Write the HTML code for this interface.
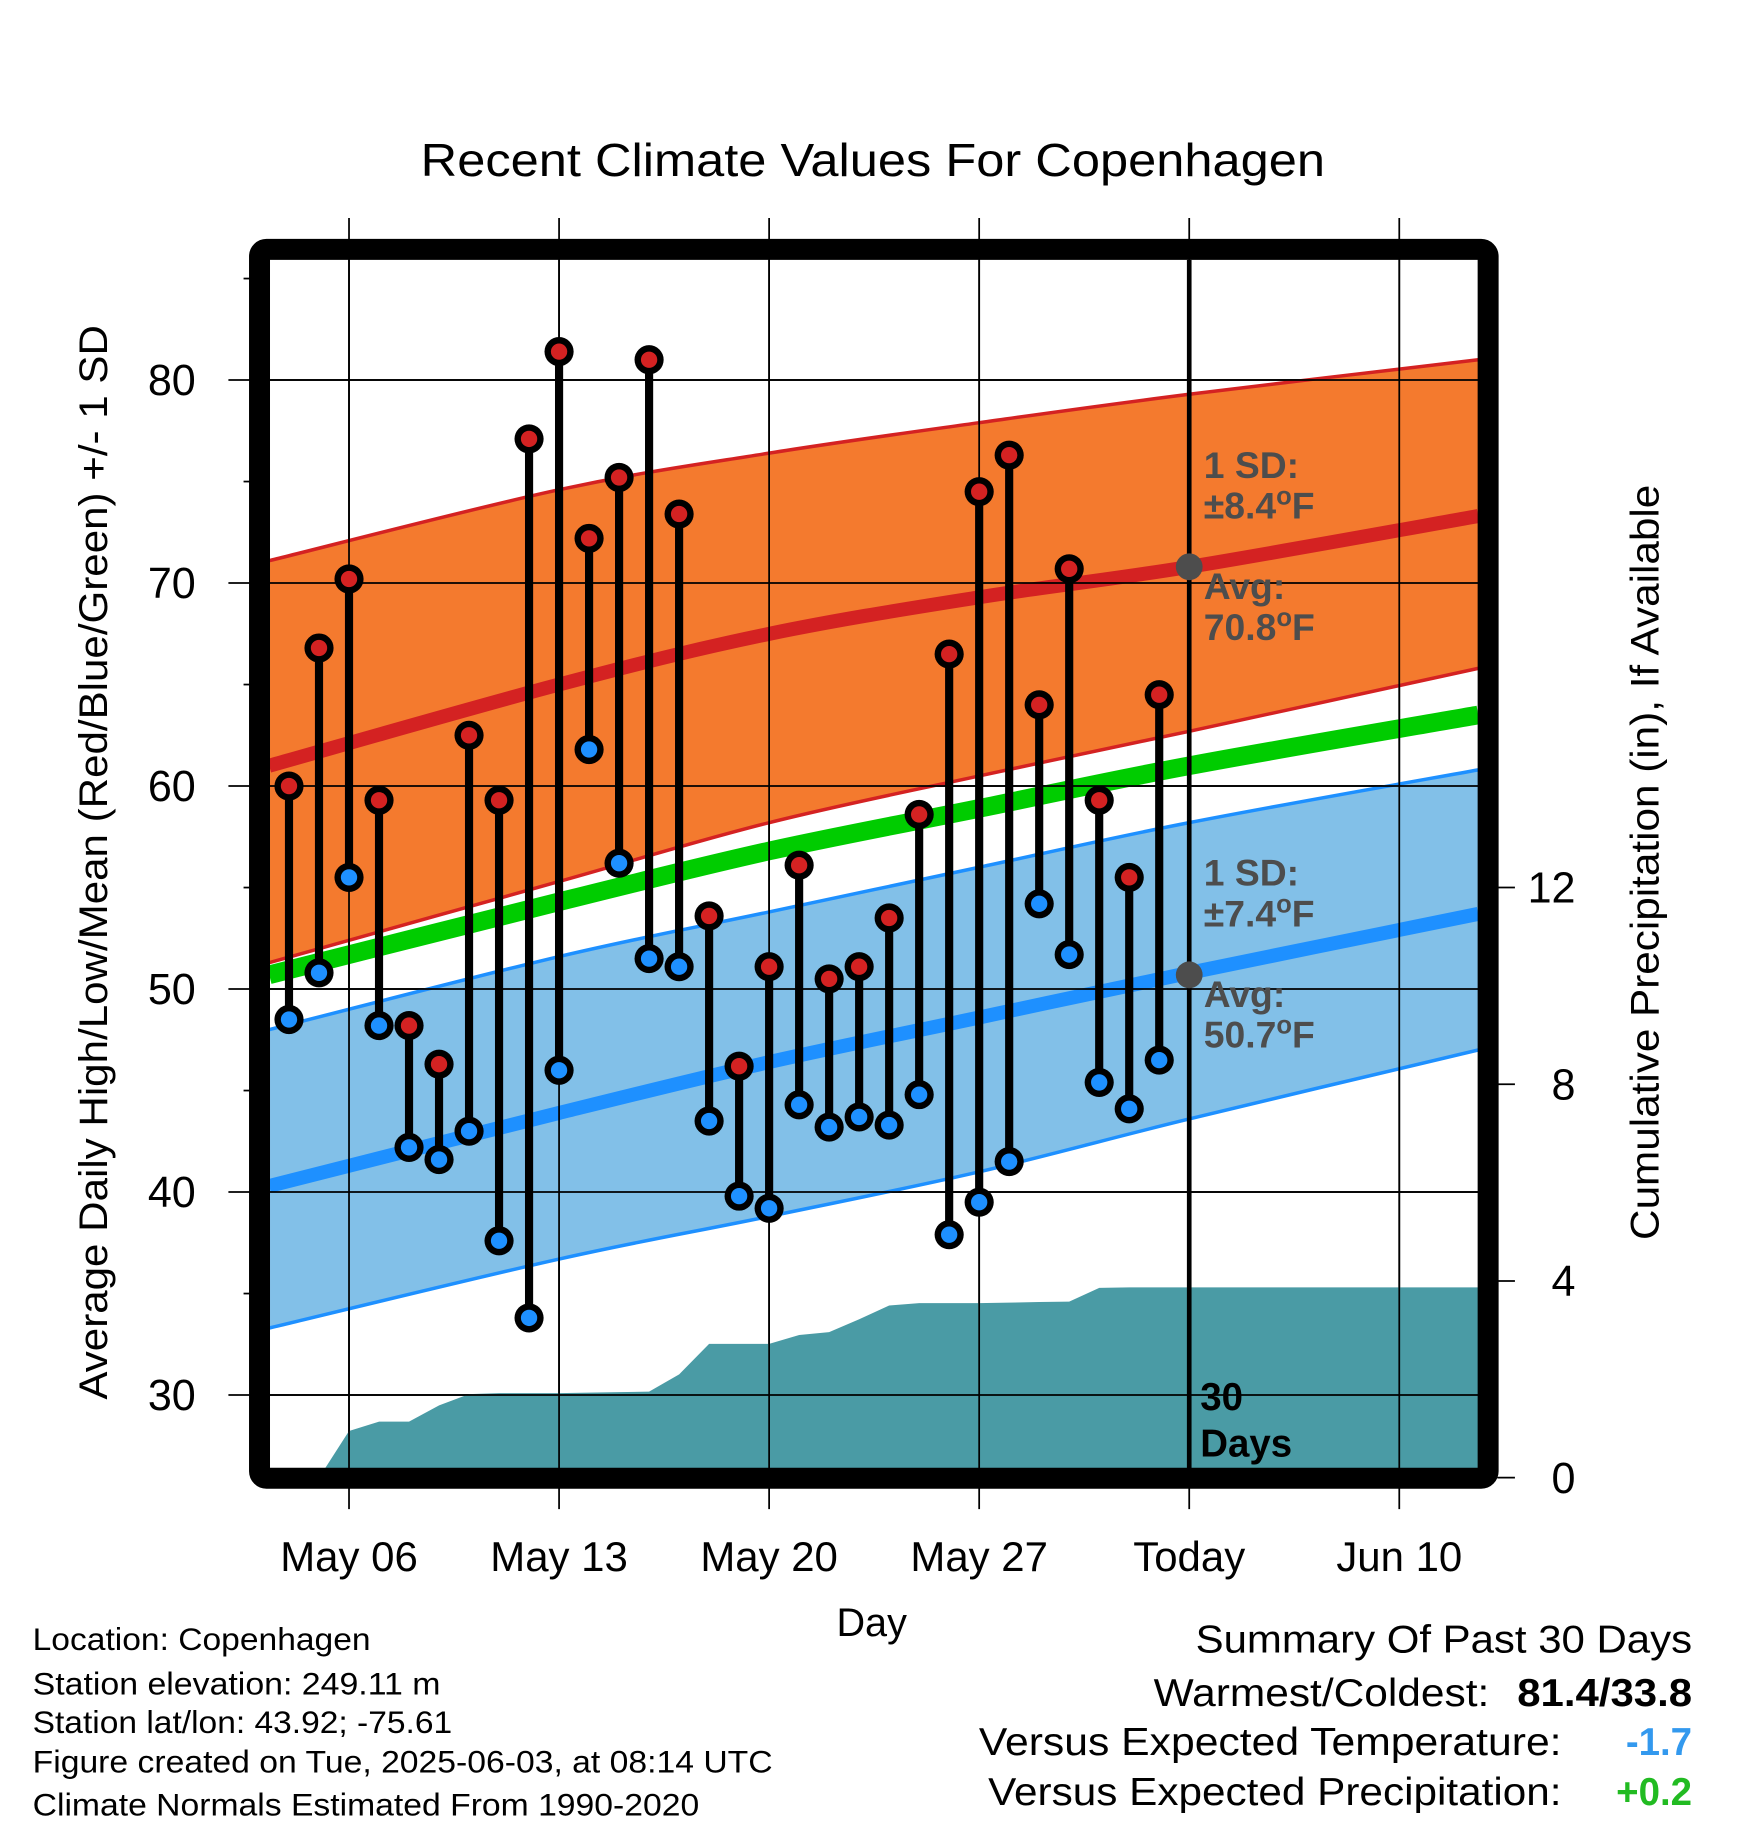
<!DOCTYPE html>
<html><head><meta charset="utf-8"><style>
html,body{margin:0;padding:0;background:#fff;}
svg{display:block;font-family:"Liberation Sans",sans-serif;}
</style></head><body>
<svg id="chart" width="1748" height="1828" viewBox="0 0 1500 1568.6" xmlns="http://www.w3.org/2000/svg">
<defs><clipPath id="plotclip"><rect x="231.7" y="223" width="1036.7" height="1037"/></clipPath></defs>
<rect x="0" y="0" width="1500" height="1568.6" fill="#fff"/>
<text x="749" y="151" font-size="40" text-anchor="middle" textLength="776" lengthAdjust="spacingAndGlyphs">Recent Climate Values For Copenhagen</text>
<g id="grid"></g>
<g id="plot" clip-path="url(#plotclip)"></g>
<g id="marks"></g>
<rect x="222.7" y="214" width="1054.3" height="1054.5" fill="none" stroke="#000" stroke-width="18" rx="6"/>
<g id="axes"></g>
<text transform="translate(92,740) rotate(-90)" font-size="34" text-anchor="middle" textLength="922" lengthAdjust="spacingAndGlyphs">Average Daily High/Low/Mean (Red/Blue/Green) +/- 1 SD</text>
<text transform="translate(1423,740) rotate(-90)" font-size="34" text-anchor="middle" textLength="648" lengthAdjust="spacingAndGlyphs">Cumulative Precipitation (in), If Available</text>
<text x="748" y="1404" font-size="34" text-anchor="middle">Day</text>
<g font-size="27">
<text x="28" y="1416" textLength="290" lengthAdjust="spacingAndGlyphs">Location: Copenhagen</text>
<text x="28" y="1454" textLength="350" lengthAdjust="spacingAndGlyphs">Station elevation: 249.11 m</text>
<text x="28" y="1487" textLength="360" lengthAdjust="spacingAndGlyphs">Station lat/lon: 43.92; -75.61</text>
<text x="28" y="1521" textLength="635" lengthAdjust="spacingAndGlyphs">Figure created on Tue, 2025-06-03, at 08:14 UTC</text>
<text x="28" y="1558" textLength="572" lengthAdjust="spacingAndGlyphs">Climate Normals Estimated From 1990-2020</text>
</g>
<g font-size="33">
<text x="1452" y="1418" text-anchor="end" textLength="426" lengthAdjust="spacingAndGlyphs">Summary Of Past 30 Days</text>
<text x="1278" y="1464" text-anchor="end" textLength="288" lengthAdjust="spacingAndGlyphs">Warmest/Coldest:</text>
<text x="1452" y="1464" text-anchor="end" font-weight="bold" textLength="150" lengthAdjust="spacingAndGlyphs">81.4/33.8</text>
<text x="1340" y="1506" text-anchor="end" textLength="500" lengthAdjust="spacingAndGlyphs">Versus Expected Temperature:</text>
<text x="1452" y="1506" text-anchor="end" font-weight="bold" fill="#3399ee">-1.7</text>
<text x="1340" y="1549" text-anchor="end" textLength="492" lengthAdjust="spacingAndGlyphs">Versus Expected Precipitation:</text>
<text x="1452" y="1549" text-anchor="end" font-weight="bold" fill="#22bb22">+0.2</text>
</g>
</svg>
<script>
// Observed data May 4 .. Jun 2
const dayOffsets = [-2,-1,0,1,2,3,4,5,6,7,8,9,10,11,12,13,14,15,16,17,18,19,20,21,22,23,24,25,26,27];
const highs = [60.0,66.8,70.2,59.3,48.2,46.3,62.5,59.3,77.1,81.4,72.2,75.2,81.0,73.4,53.6,46.2,51.1,56.1,50.5,51.1,53.5,58.6,66.5,74.5,76.3,64.0,70.7,59.3,55.5,64.5];
const lows = [48.5,50.8,55.5,48.2,42.2,41.6,43.0,37.6,33.8,46.0,61.8,56.2,51.5,51.1,43.5,39.8,39.2,44.3,43.2,43.7,43.3,44.8,37.9,39.5,41.5,54.2,51.7,45.4,44.1,46.5];
const precipCum = [0,0,0.95,1.14,1.14,1.47,1.70,1.72,1.72,1.72,1.73,1.74,1.75,2.10,2.72,2.72,2.72,2.90,2.96,3.22,3.50,3.55,3.55,3.55,3.56,3.57,3.58,3.86,3.87,3.87];
// Normals at knots (day offsets from May 06)
const normDays = [-2.66,7,14,21,28,37.63];
const redUpper = [71.1,74.6,76.4,77.9,79.3,81.0];
const redAvg = [61.0,65.0,67.5,69.3,70.8,73.3];
const redLower = [51.3,55.3,58.2,60.5,62.7,65.8];
const greenMean = [50.7,54.3,56.8,58.9,61.0,63.5];
const blueUpper = [48.0,51.6,53.8,56.0,58.2,60.8];
const blueAvg = [40.3,43.9,46.4,48.6,50.8,53.7];
const blueLower = [33.3,36.7,38.8,41.0,43.6,47.0];
const yTicks = [30,40,50,60,70,80];
const yMinor = [35,45,55,65,75,85];
const precipTicks = [0,4,8,12];
const xTickDays = [0,7,14,21,28,35];
const xTickLabels = ["May 06","May 13","May 20","May 27","Today","Jun 10"];

const X = d => 299.5 + d*25.75;
const Y = t => 326.1 + (80 - t)*17.42;
const P = p => 1268 - p*42.2;
const NS = "http://www.w3.org/2000/svg";
function mk(tag, parent, attrs){const e=document.createElementNS(NS,tag);for(const k in attrs)e.setAttribute(k,attrs[k]);parent.appendChild(e);return e;}
const grid=document.getElementById('grid'), plot=document.getElementById('plot'), marks=document.getElementById('marks'), axes=document.getElementById('axes');

function ptsOf(arr){return normDays.map((d,i)=>[X(d),Y(arr[i])]);}
function spline(p,move){
  let s=(move?'M':'L')+p[0][0].toFixed(1)+','+p[0][1].toFixed(1);
  for(let i=0;i<p.length-1;i++){
    const p0=p[Math.max(0,i-1)],p1=p[i],p2=p[i+1],p3=p[Math.min(p.length-1,i+2)];
    const c1=[p1[0]+(p2[0]-p0[0])/6,p1[1]+(p2[1]-p0[1])/6];
    const c2=[p2[0]-(p3[0]-p1[0])/6,p2[1]-(p3[1]-p1[1])/6];
    s+=' C'+c1.map(v=>v.toFixed(1)).join(',')+' '+c2.map(v=>v.toFixed(1)).join(',')+' '+p2[0].toFixed(1)+','+p2[1].toFixed(1);
  }
  return s;
}
function line(arr){return spline(ptsOf(arr),true);}
function band(up,lo){return spline(ptsOf(up),true)+' '+spline(ptsOf(lo).reverse(),false)+' Z';}

let e;
e=mk('path',plot,{d:band(redUpper,redLower),fill:'#f47a2e'});

e=mk('path',plot,{d:line(redUpper),fill:'none',stroke:'#d42222','stroke-width':3});

e=mk('path',plot,{d:line(redLower),fill:'none',stroke:'#d42222','stroke-width':3});

e=mk('path',plot,{d:band(blueUpper,blueLower),fill:'#82c0e8'});

e=mk('path',plot,{d:line(blueUpper),fill:'none',stroke:'#1e90ff','stroke-width':3});

e=mk('path',plot,{d:line(blueLower),fill:'none',stroke:'#1e90ff','stroke-width':3});

e=mk('path',plot,{d:line(redAvg),fill:'none',stroke:'#d42222','stroke-width':12});

e=mk('path',plot,{d:line(blueAvg),fill:'none',stroke:'#1e90ff','stroke-width':12});

e=mk('path',plot,{d:line(greenMean),fill:'none',stroke:'#00cc00','stroke-width':16});


// precip area
let pp=[X(dayOffsets[0]-1)+','+P(0)];
dayOffsets.forEach((d,i)=>pp.push(X(d).toFixed(1)+','+P(precipCum[i]).toFixed(1)));
pp.push('1280,'+P(precipCum[precipCum.length-1]).toFixed(1));
pp.push('1280,1270');pp.push(X(dayOffsets[0]-1)+',1270');
e=mk('polygon',plot,{points:pp.join(' '),fill:'#4a9ba5'});


yTicks.forEach(t=>{e=mk('line',grid,{x1:196,x2:1277,y1:Y(t),y2:Y(t),stroke:'#000','stroke-width':1.5});
});
xTickDays.forEach(d=>{e=mk('line',grid,{x1:X(d),x2:X(d),y1:187,y2:1295,stroke:'#000','stroke-width':1.5});
});
const g2=mk('g',plot,{});
yTicks.forEach(t=>{e=mk('line',g2,{x1:196,x2:1277,y1:Y(t),y2:Y(t),stroke:'#000','stroke-width':1.5});
});
xTickDays.forEach(d=>{e=mk('line',g2,{x1:X(d),x2:X(d),y1:187,y2:1295,stroke:'#000','stroke-width':1.5});
});

e=mk('line',plot,{x1:X(28),x2:X(28),y1:220,y2:1262,stroke:'#000','stroke-width':4});


dayOffsets.forEach((d,i)=>{
 e=mk('line',marks,{x1:X(d),x2:X(d),y1:Y(highs[i]),y2:Y(lows[i]),stroke:'#000','stroke-width':7});
 
});
dayOffsets.forEach((d,i)=>{
 e=mk('circle',marks,{cx:X(d),cy:Y(highs[i]),r:12.5,fill:'#000'});
 
 e=mk('circle',marks,{cx:X(d),cy:Y(highs[i]),r:7,fill:'#d42222'});
 
 e=mk('circle',marks,{cx:X(d),cy:Y(lows[i]),r:12.5,fill:'#000'});
 
 e=mk('circle',marks,{cx:X(d),cy:Y(lows[i]),r:7,fill:'#1e90ff'});
 
});

e=mk('circle',marks,{cx:X(28),cy:Y(70.8),r:11.5,fill:'#4d4d4d'});

e=mk('circle',marks,{cx:X(28),cy:Y(50.7),r:11.5,fill:'#4d4d4d'});


const ann=[["1 SD:",410,'high-sd-label',0],["±8.4",445,'high-sd-value',1],["Avg:",514,'high-avg-label',0],["70.8",549,'high-avg-value',1],
["1 SD:",760,'low-sd-label',0],["±7.4",795,'low-sd-value',1],["Avg:",864,'low-avg-label',0],["50.7",899,'low-avg-value',1]];
ann.forEach(a=>{e=mk('text',marks,{x:1033,y:a[1],'font-size':32,'font-weight':'bold',fill:'#4d4d4d'});
 
 if(a[3]){e.textContent=a[0];const s1=mk('tspan',e,{dy:-12,'font-size':22});s1.textContent='o';const s2=mk('tspan',e,{dy:12});s2.textContent='F';}
 else e.textContent=a[0];});
e=mk('text',marks,{x:1030,y:1210,'font-size':33,'font-weight':'bold',fill:'#000'});e.textContent='30';

e=mk('text',marks,{x:1030,y:1250,'font-size':33,'font-weight':'bold',fill:'#000'});e.textContent='Days';


yTicks.forEach(t=>{e=mk('text',axes,{x:168,y:Y(t)+13,'font-size':37,'text-anchor':'end'});e.textContent=String(t);
 });
yMinor.forEach(t=>{e=mk('line',axes,{x1:209,x2:222,y1:Y(t),y2:Y(t),stroke:'#000','stroke-width':1.5});
 });
precipTicks.forEach(p=>{e=mk('line',axes,{x1:1285,x2:1300,y1:P(p),y2:P(p),stroke:'#000','stroke-width':1.5});
 
 e=mk('text',axes,{x:1352,y:P(p)+13,'font-size':37,'text-anchor':'end'});e.textContent=String(p);
 });
xTickDays.forEach((d,i)=>{e=mk('text',axes,{x:X(d),y:1348,'font-size':36,'text-anchor':'middle'});e.textContent=xTickLabels[i];
 });
</script>
</body></html>
